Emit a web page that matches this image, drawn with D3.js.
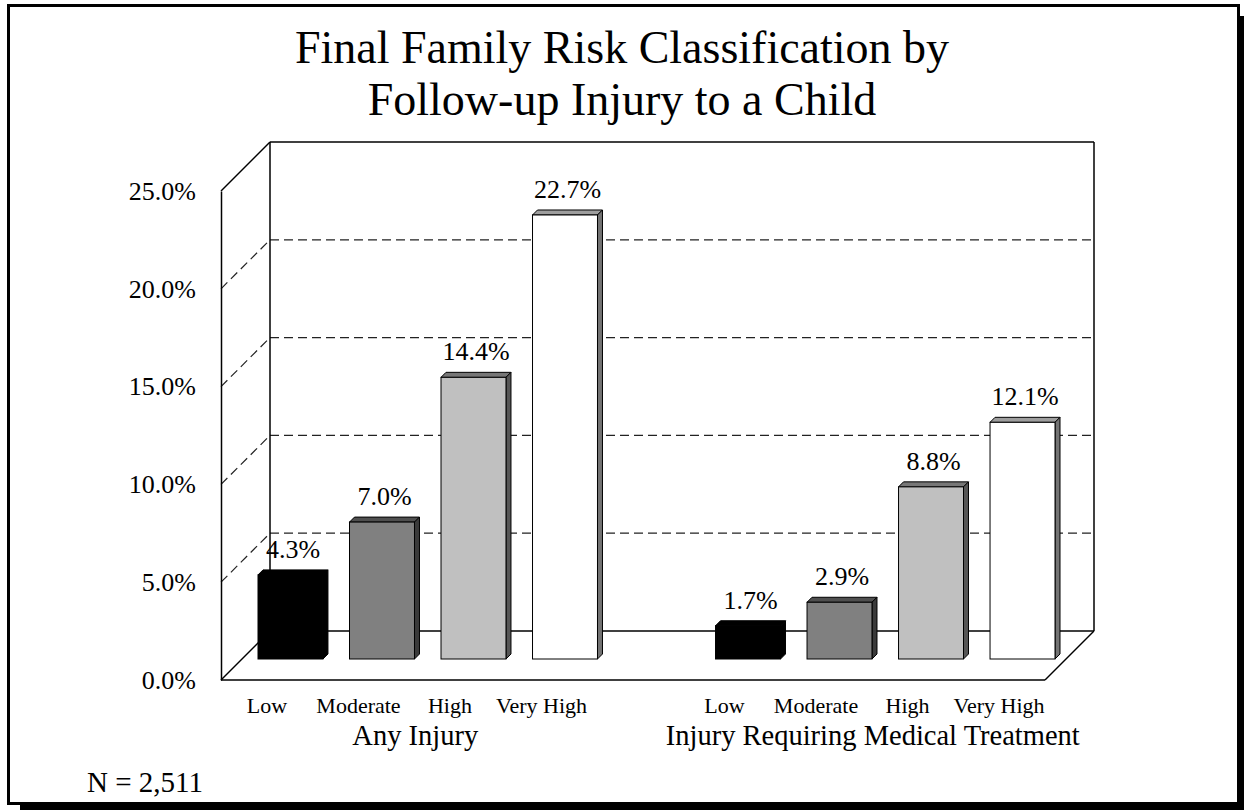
<!DOCTYPE html>
<html>
<head>
<meta charset="utf-8">
<script src="https://cdn.jsdelivr.net/npm/d3@7"></script>
<style>
  html, body { margin: 0; padding: 0; background: #ffffff; }
  svg { display: block; }
  text { font-family: "Liberation Serif", "Times New Roman", Times, serif; fill: #000; }
</style>
</head>
<body>
<svg id="chart" width="1244" height="810"></svg>
<script>
// Chart data
const titleLines = ["Final Family Risk Classification by", "Follow-up Injury to a Child"];
const groups = ["Any Injury", "Injury Requiring Medical Treatment"];
const riskLevels = ["Low", "Moderate", "High", "Very High"];
const anyInjury = [4.3, 7.0, 14.4, 22.7];
const medicalInjury = [1.7, 2.9, 8.8, 12.1];
const yTicks = [0, 5, 10, 15, 20, 25];
const barColors = ["#000000", "#808080", "#c0c0c0", "#ffffff"];
const sampleNote = "N = 2,511";

const svg = d3.select("#chart");

// Outer frame with drop shadow
svg.append("rect").attr("x", 20).attr("y", 16).attr("width", 1260).attr("height", 820).attr("fill", "#000");
svg.append("rect").attr("x", 8.5).attr("y", 5.5).attr("width", 1230).attr("height", 798)
  .attr("fill", "#fff").attr("stroke", "#000").attr("stroke-width", 3);

// Title
svg.append("g").selectAll("text").data(titleLines).join("text")
  .attr("x", 622).attr("y", (d, i) => 63 + i * 52)
  .attr("text-anchor", "middle").attr("font-size", 46).text(d => d);

// 3D box geometry
const plotLeft = 221, plotRight = 1045;
const wallDepth = 49;      // offset of back wall (x right, y up)
const barPlane = 21;       // offset of bar fronts from the front plane
const barDepth = 5;        // thickness of each bar

const y = d3.scaleLinear().domain([0, 25]).range([680, 191]);
const yBack = v => y(v) - wallDepth;
const yBar = v => y(v) - barPlane;

const dash = "9,5";
const lineW = 1.5;

// Back wall gridlines
const gridVals = yTicks.filter(v => v > 0 && v < 25);
svg.append("g").selectAll("line").data(gridVals).join("line")
  .attr("x1", plotLeft + wallDepth).attr("x2", plotRight + wallDepth)
  .attr("y1", d => yBack(d)).attr("y2", d => yBack(d))
  .attr("stroke", "#222").attr("stroke-width", 1.2).attr("stroke-dasharray", dash);

// Side wall dashed diagonals
svg.append("g").selectAll("line").data(gridVals).join("line")
  .attr("x1", plotLeft).attr("y1", d => y(d))
  .attr("x2", plotLeft + wallDepth).attr("y2", d => yBack(d))
  .attr("stroke", "#222").attr("stroke-width", 1.2).attr("stroke-dasharray", dash);

// Solid box edges
const edges = [
  [plotLeft + wallDepth, yBack(25), plotRight + wallDepth, yBack(25)],   // back top
  [plotLeft + wallDepth, yBack(25), plotLeft + wallDepth, yBack(0)],      // back left
  [plotRight + wallDepth, yBack(25), plotRight + wallDepth, yBack(0)],    // back right
  [plotLeft + wallDepth, yBack(0), plotRight + wallDepth, yBack(0)],      // floor back
  [plotLeft, y(25), plotLeft + wallDepth, yBack(25)],                     // side top
  [plotLeft, y(0), plotLeft + wallDepth, yBack(0)],                       // floor left
  [plotLeft, y(0), plotRight, y(0)],                                      // floor front
  [plotRight, y(0), plotRight + wallDepth, yBack(0)]                      // floor right
];
svg.append("g").selectAll("line").data(edges).join("line")
  .attr("x1", d => d[0]).attr("y1", d => d[1]).attr("x2", d => d[2]).attr("y2", d => d[3])
  .attr("stroke", "#000").attr("stroke-width", lineW);

// Value axis on the front plane
const yAxis = d3.axisLeft(y).tickValues(yTicks).tickSize(0).tickPadding(25)
  .tickFormat(d => d.toFixed(1) + "%");
const axisG = svg.append("g").attr("transform", `translate(${plotLeft},0)`).call(yAxis);
axisG.select(".domain").attr("stroke", "#000").attr("stroke-width", lineW);
axisG.selectAll(".tick text").attr("font-size", 26)
  .attr("font-family", "'Liberation Serif', 'Times New Roman', serif").attr("fill", "#000");

// Bar slots: four risk levels per group, with an empty slot between groups
const slots = [];
groups.forEach((g, gi) => {
  if (gi > 0) slots.push("gap" + gi);
  riskLevels.forEach(r => slots.push(g + "|" + r));
});
const x = d3.scaleBand().domain(slots).range([258, 1055]).paddingInner(0.29).paddingOuter(0);

const rows = [];
[anyInjury, medicalInjury].forEach((vals, gi) => {
  vals.forEach((v, ri) => rows.push({ group: groups[gi], level: riskLevels[ri], idx: ri, value: v }));
});

function shade(c, k) {
  const rgb = d3.rgb(c);
  return d3.rgb(rgb.r * k, rgb.g * k, rgb.b * k).formatHex();
}

const bw = x.bandwidth();
const barG = svg.append("g").selectAll("g").data(rows).join("g");

// Top face
barG.append("polygon")
  .attr("points", d => {
    const x0 = x(d.group + "|" + d.level), yt = yBar(d.value);
    return [[x0, yt], [x0 + barDepth, yt - barDepth], [x0 + bw + barDepth, yt - barDepth], [x0 + bw, yt]].join(" ");
  })
  .attr("fill", d => shade(barColors[d.idx], 0.62)).attr("stroke", "#000").attr("stroke-width", 1)
  .attr("stroke-linejoin", "round");
// Side face
barG.append("polygon")
  .attr("points", d => {
    const x0 = x(d.group + "|" + d.level) + bw, yt = yBar(d.value), yb = yBar(0);
    return [[x0, yt], [x0 + barDepth, yt - barDepth], [x0 + barDepth, yb - barDepth], [x0, yb]].join(" ");
  })
  .attr("fill", d => shade(barColors[d.idx], 0.45)).attr("stroke", "#000").attr("stroke-width", 1)
  .attr("stroke-linejoin", "round");
// Front face
barG.append("rect")
  .attr("x", d => x(d.group + "|" + d.level))
  .attr("y", d => yBar(d.value))
  .attr("width", bw)
  .attr("height", d => yBar(0) - yBar(d.value))
  .attr("fill", d => barColors[d.idx]).attr("stroke", "#000").attr("stroke-width", 1);

// Value labels
svg.append("g").selectAll("text").data(rows).join("text")
  .attr("x", d => x(d.group + "|" + d.level) + bw / 2 + barDepth / 2)
  .attr("y", d => yBar(d.value) - barDepth - 12)
  .attr("text-anchor", "middle").attr("font-size", 26)
  .text(d => d.value.toFixed(1) + "%");

// Category labels (on the front floor edge)
const labelShift = 23.5;
svg.append("g").selectAll("text").data(rows).join("text")
  .attr("x", d => x(d.group + "|" + d.level) + bw / 2 - labelShift)
  .attr("y", 713)
  .attr("text-anchor", "middle").attr("font-size", 22)
  .text(d => d.level);

// Group labels
svg.append("g").selectAll("text").data(groups).join("text")
  .attr("x", g => d3.mean(riskLevels, r => x(g + "|" + r) + bw / 2) - labelShift + 11)
  .attr("y", 745)
  .attr("text-anchor", "middle").attr("font-size", 28.5)
  .text(g => g);

// Sample size note
svg.append("text").attr("x", 87).attr("y", 792).attr("font-size", 29).text(sampleNote);
</script>
</body>
</html>
